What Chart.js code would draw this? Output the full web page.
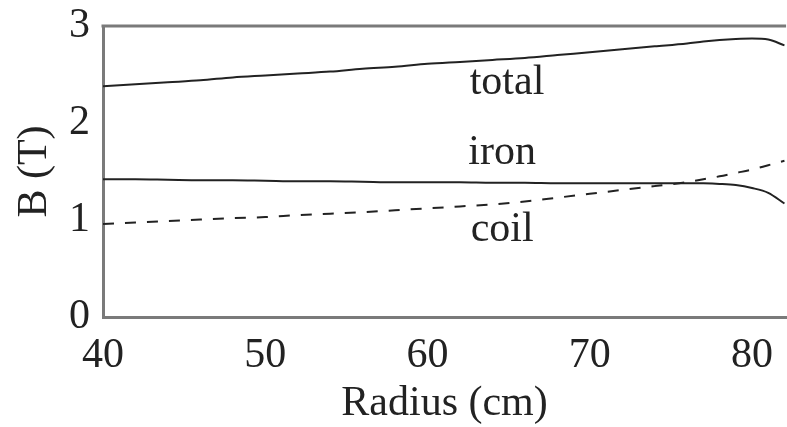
<!DOCTYPE html>
<html>
<head>
<meta charset="utf-8">
<script src="https://cdn.jsdelivr.net/npm/chart.js@4"></script>
<style>
  body { margin: 0; background: #fff; }
  #wrap { width: 787px; height: 427px; }
</style>
</head>
<body>
<div id="wrap"><canvas id="field_chart" width="787" height="427"></canvas></div>
<script>
// radius (cm) and field (T)
const radius = [40, 42, 44, 46, 48, 50, 52, 54, 56, 58, 60, 62, 64, 66, 68, 70, 72, 74, 76, 77, 78, 79, 80, 81, 82];
const totalB = [2.38, 2.40, 2.42, 2.44, 2.47, 2.49, 2.51, 2.53, 2.56, 2.58, 2.61, 2.63, 2.65, 2.67, 2.70, 2.73, 2.76, 2.79, 2.82, 2.84, 2.855, 2.865, 2.87, 2.86, 2.80];
const ironB = [1.42, 1.42, 1.415, 1.41, 1.41, 1.405, 1.40, 1.40, 1.395, 1.39, 1.39, 1.39, 1.385, 1.385, 1.38, 1.38, 1.38, 1.38, 1.38, 1.378, 1.372, 1.36, 1.33, 1.28, 1.17];
const coilB = [0.96, 0.975, 0.99, 1.005, 1.02, 1.03, 1.05, 1.065, 1.08, 1.10, 1.12, 1.14, 1.16, 1.19, 1.23, 1.27, 1.31, 1.35, 1.39, 1.42, 1.45, 1.485, 1.52, 1.565, 1.61];
const yTicks = [0, 1, 2, 3];
const xTicks = [40, 50, 60, 70, 80];

// curve names written inside the plot
const curveLabels = ['total', 'iron', 'coil'];
const curveLabelAt = [[64.9, 2.41], [64.6, 1.69], [64.6, 0.90]];

const serif = '"Liberation Serif", "DejaVu Serif", serif';
const ink = '#222';
const axisGrey = '#7a7a7a';

function toPoints(ys) {
  return radius.map((r, i) => ({ x: r, y: ys[i] }));
}

const framePlugin = {
  id: 'frame',
  afterDraw(chart) {
    const ctx = chart.ctx;
    const a = chart.chartArea;
    ctx.save();
    // top edge of the box
    ctx.strokeStyle = axisGrey;
    ctx.lineWidth = 3;
    ctx.beginPath();
    ctx.moveTo(a.left - 1.5, a.top);
    ctx.lineTo(a.right, a.top);
    ctx.stroke();
    // curve names
    ctx.fillStyle = ink;
    ctx.font = '42px ' + serif;
    ctx.textAlign = 'center';
    ctx.textBaseline = 'middle';
    const xs = chart.scales.x, ys = chart.scales.y;
    curveLabels.forEach((t, i) => {
      ctx.fillText(t, xs.getPixelForValue(curveLabelAt[i][0]), ys.getPixelForValue(curveLabelAt[i][1]));
    });
    ctx.restore();
  }
};

const ctx_field = document.getElementById('field_chart');
const data_field = {
  datasets: [{
    label: 'total',
    data: toPoints(totalB),
    borderColor: ink,
    borderWidth: 2,
    pointRadius: 0,
    cubicInterpolationMode: 'monotone'
  }, {
    label: 'iron',
    data: toPoints(ironB),
    borderColor: ink,
    borderWidth: 2,
    pointRadius: 0,
    cubicInterpolationMode: 'monotone'
  }, {
    label: 'coil',
    data: toPoints(coilB),
    borderColor: ink,
    borderWidth: 2,
    borderDash: [11, 11],
    pointRadius: 0,
    cubicInterpolationMode: 'monotone'
  }]
};

const config_field = {
  type: 'line',
  data: data_field,
  plugins: [framePlugin],
  options: {
    responsive: false,
    animation: false,
    layout: { padding: { left: 0, right: 0, top: 0, bottom: 0 } },
    plugins: {
      legend: { display: false },
      tooltip: { enabled: false }
    },
    scales: {
      x: {
        type: 'linear',
        min: 40,
        max: 82.1,
        afterBuildTicks: (s) => { s.ticks = xTicks.map(v => ({ value: v })); },
        afterFit: (s) => { s.height = 110; },
        grid: { display: false, drawTicks: false },
        border: { display: true, color: axisGrey, width: 3 },
        ticks: { color: ink, padding: 14, maxRotation: 0, font: { family: serif, size: 42 } },
        title: {
          display: true,
          text: 'Radius (cm)',
          color: ink,
          font: { family: serif, size: 42, lineHeight: 1.1 },
          padding: { top: 0, bottom: 0 }
        }
      },
      y: {
        type: 'linear',
        min: 0,
        max: 3,
        afterBuildTicks: (s) => { s.ticks = yTicks.map(v => ({ value: v })); },
        afterFit: (s) => { s.width = 103; s.paddingTop = 26; },
        grid: { display: false, drawTicks: false },
        border: { display: true, color: axisGrey, width: 3 },
        ticks: { color: ink, padding: 13, font: { family: serif, size: 42, lineHeight: 1.0 } },
        title: {
          display: true,
          text: 'B (T)',
          color: ink,
          font: { family: serif, size: 42 },
          padding: { top: 10, bottom: 0 }
        }
      }
    }
  }
};

const myChart_field = new Chart(ctx_field, config_field);
</script>
</body>
</html>
